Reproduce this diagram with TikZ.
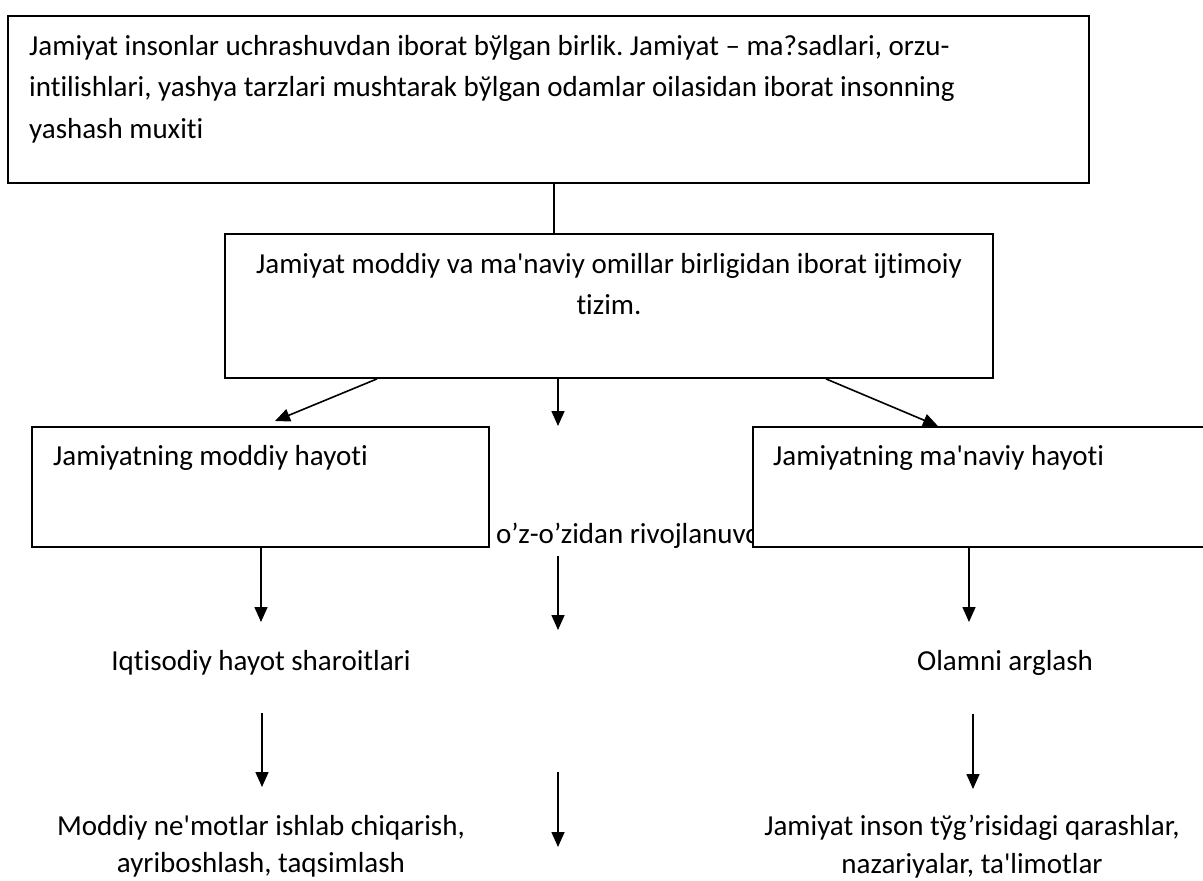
\documentclass[tikz,border=0pt]{standalone}
\usepackage{fontspec}
\newfontfamily\calibri{Carlito}[Ligatures=NoCommon]
\usetikzlibrary{arrows.meta}
\frenchspacing
\begin{document}
\begin{tikzpicture}[x=1pt,y=-1pt,
  box/.style={draw,line width=1.8pt,fill=white,rectangle,inner sep=0pt},
  txt/.style={font=\calibri\fontsize{29}{41.5}\selectfont,inner sep=0pt},
  lowtxt/.style={font=\calibri\fontsize{29}{37.5}\selectfont,inner sep=0pt,align=center,anchor=north},
  arr/.style={line width=1.6pt,-{Triangle[length=15pt,width=13pt]}},
  link/.style={line width=1.6pt}]
\fill[white] (0,0) rectangle (1203,881);
\useasboundingbox (0,0) rectangle (1203,881);
% top box
\node[box,minimum width=1081pt,minimum height=167pt] (top) at (548.5,99.5) {};
\node[txt,anchor=north west,align=left] (toptext) at (29,35) {Jamiyat insonlar uchrashuvdan iborat bўlgan birlik. Jamiyat – ma?sadlari, orzu-\\intilishlari, yashya tarzlari mushtarak bўlgan odamlar oilasidan iborat insonning\\yashash muxiti};
% middle box
\node[box,minimum width=768pt,minimum height=144pt] (mid) at (609,306) {};
\node[txt,anchor=north,align=center] (midtext) at (609,253) {Jamiyat moddiy va ma'naviy omillar birligidan iborat ijtimoiy\\tizim.};
% centre text (partly hidden)
\node[txt,anchor=base west] (ctext) at (496,543) {o’z-o’zidan rivojlanuvchi};
% side boxes
\node[box,minimum width=457pt,minimum height=120pt] (lbox) at (260.5,487) {};
\node[txt,anchor=base west] (ltext) at (53,465) {Jamiyatning moddiy hayoti};
\node[box,minimum width=477pt,minimum height=120pt] (rbox) at (991.5,487) {};
\node[txt,anchor=base west] (rtext) at (773,465) {Jamiyatning ma'naviy hayoti};
% lower texts
\node[txt,anchor=base] (l2) at (261,670) {Iqtisodiy hayot sharoitlari};
\node[txt,anchor=base] (r2) at (1005,670) {Olamni arglash};
\node[lowtxt] (l3) at (261,815) {Moddiy ne'motlar ishlab chiqarish,\\ayriboshlash, taqsimlash};
\node[lowtxt] (r3) at (972,815) {Jamiyat inson tўg’risidagi qarashlar,\\nazariyalar, ta'limotlar};
% coordinates
\coordinate (xc) at (554,0);
\coordinate (dls) at (377,0);
\coordinate (dle) at (275,421);
\coordinate (dcs) at (558,0);
\coordinate (dce) at (558,426);
\coordinate (drs) at (826,0);
\coordinate (dre) at (938,0);
\coordinate (xl) at (261,0);
\coordinate (e1) at (261,622);
\coordinate (c2s) at (558,556);
\coordinate (c2e) at (558,630);
\coordinate (xr) at (969,0);
\coordinate (e2) at (969,622);
\coordinate (l2s) at (262,713);
\coordinate (l2e) at (262,787);
\coordinate (r2s) at (973,714);
\coordinate (r2e) at (973,789);
\coordinate (c3s) at (558,772);
\coordinate (c3e) at (558,847);
% connectors
\draw[link] (top.south -| xc) -- (mid.north -| xc);
\draw[arr] (mid.south -| dls) -- (dle);
\draw[arr] (mid.south -| dcs) -- (dce);
\draw[arr] (mid.south -| drs) -- (rbox.north -| dre);
\draw[arr] (lbox.south -| xl) -- (e1);
\draw[arr] (c2s) -- (c2e);
\draw[arr] (rbox.south -| xr) -- (e2);
\draw[arr] (l2s) -- (l2e);
\draw[arr] (r2s) -- (r2e);
\draw[arr] (c3s) -- (c3e);
\end{tikzpicture}
\end{document}
